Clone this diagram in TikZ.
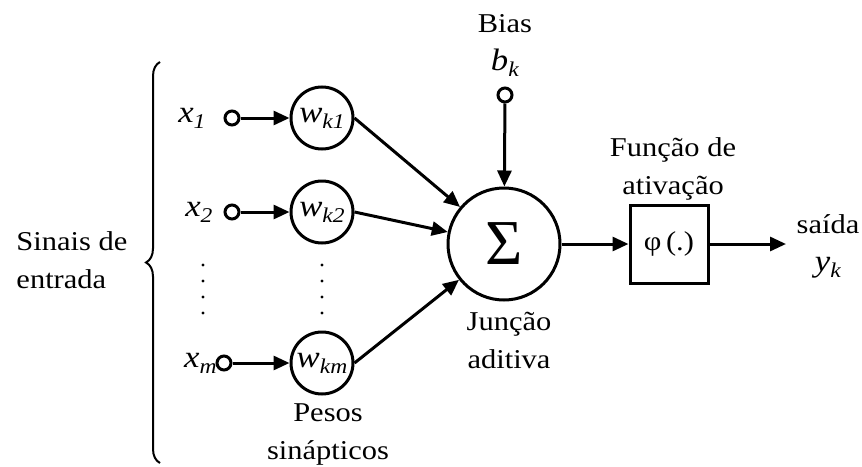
\documentclass[tikz,border=0pt]{standalone}
\usepackage{fontspec}
\setmainfont{Liberation Serif}[FakeStretch=1.12]
\newfontfamily\simbfont{Liberation Serif}
\usetikzlibrary{arrows.meta,decorations.pathreplacing}
\newcommand{\vsub}[2]{{\fontsize{15.5}{15.5}\selectfont\textit{#1}}\raisebox{-3pt}{\fontsize{10.5}{10.5}\selectfont\textit{#2}}}

\begin{document}
\begin{tikzpicture}[x=0.5pt,y=-0.5pt,line width=1.5pt,
  every node/.style={font=\fontsize{13.6}{19}\selectfont,inner sep=0pt},
  port/.style={circle,draw,minimum size=7pt},
  peso/.style={circle,draw,minimum size=31pt},
  rotulo/.style={align=center},
  seta/.style={-{Triangle[length=8pt,width=7pt]}}]
\useasboundingbox (0,0) rectangle (862,466);

\foreach \n/\px/\lx/\y in {1/232/207/118,2/232/214/212,m/224/218/363} {
  \node[port] (p\n) at (\px,\y) {};
  \node[anchor=east] (x\n) at (\lx,\y) {\vsub{x}{\n}};
  \node[peso] (w\n) at (322,\y) {\vsub{w}{k\n}};
  \draw[seta] (p\n) -- (w\n);
}
\foreach \y in {265,281,297,313} {
  \fill (203,\y) circle[radius=0.8pt];
  \fill (322,\y) circle[radius=0.8pt];
}

\draw[line width=1pt,decorate,decoration={brace,amplitude=7pt}] (160,463) -- (160,62);
\node[rotulo,align=left,anchor=west] (sinais) at (15,260) {Sinais de\\entrada};

\node[circle,draw,minimum size=56pt] (soma) at (504,244) {\simbfont\fontsize{32}{32}\selectfont Σ};
\node[port] (pb) at (505,95) {};
\node[rotulo] (bias) at (505,45) {Bias\\\vsub{b}{k}};
\draw[seta] (pb) -- (soma);
\foreach \n in {1,2,m}
  \draw[seta] (w\n.east) -- (soma);
\node[rotulo] (juncao) at (509,340) {Junção\\aditiva};
\node[rotulo] (pesos) at (328,434) {Pesos\\sinápticos};

\node[draw,minimum size=39pt] (fi) at (669,244) {φ\,(.)};
\node[rotulo] (ativ) at (673,169) {Função de\\ativação};
\draw[seta] (soma) -- (fi);
\coordinate (saida) at (786,244);
\draw[seta] (fi) -- (saida);
\node[rotulo] (yk) at (828,246) {saída\\\vsub{y}{k}};
\end{tikzpicture}
\end{document}
